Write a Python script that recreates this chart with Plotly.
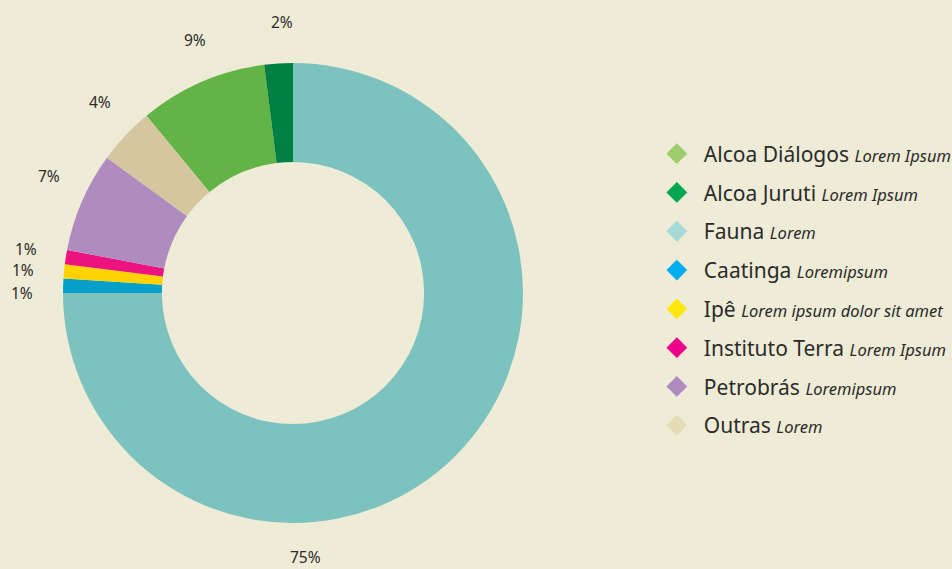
import math
import plotly.graph_objects as go

# ---- data ----
categories = ["Alcoa Diálogos", "Alcoa Juruti", "Fauna", "Caatinga", "Ipê",
              "Instituto Terra", "Petrobrás", "Outras"]
subtitles = ["Lorem Ipsum", "Lorem Ipsum", "Lorem", "Loremipsum",
             "Lorem ipsum dolor sit amet", "Lorem Ipsum", "Loremipsum", "Lorem"]
values = [9, 2, 75, 1, 1, 1, 7, 4]
pct_labels = ["9%", "2%", "75%", "1%", "1%", "1%", "7%", "4%"]

# ---- style ----
slice_colors = ["#63b446", "#007f45", "#7cc3bf", "#06a0cb", "#ffd200",
                "#ec1380", "#b08bc0", "#d4c69e"]
legend_colors = ["#9fcd6c", "#00a651", "#a5dad6", "#00aeef", "#fee60f",
                 "#ec008c", "#b08bc0", "#e3dcb5"]
BG = "#eeebd6"
W, H = 952, 569
CX, CY, R = 293, 293, 230       # donut centre / radius in px
LABEL_R = 271
# hand-placed label tweaks (degrees added to mid-angle, radius overrides)
label_angle_shift = {"Alcoa Diálogos": 2.3, "Alcoa Juruti": 1.3, "Outras": 1.5,
                     "Petrobrás": 2.2, "Instituto Terra": 0.4, "Ipê": -0.6,
                     "Caatinga": -1.8, "Fauna": 42.2}
label_r_override = {"Fauna": 264}
FONT = "Noto Sans"

total = sum(values)
lead = sum(values[:2]) / total * 360.0
rotation = -lead

fig = go.Figure()
fig.add_trace(go.Pie(
    labels=categories, values=values, sort=False, direction="clockwise",
    rotation=rotation, hole=0.57, textinfo="none", hoverinfo="label+percent",
    marker=dict(colors=slice_colors, line=dict(width=0)),
    showlegend=False,
    domain=dict(x=[(CX - R) / W, (CX + R) / W],
                y=[(H - CY - R) / H, (H - CY + R) / H]),
))

for i, (cat, sub) in enumerate(zip(categories, subtitles)):
    fig.add_trace(go.Scatter(
        x=[None], y=[None], mode="markers",
        marker=dict(symbol="diamond", size=16, color=legend_colors[i]),
        name=f"{cat} <i><span style='font-size:16.5px'>{sub}</span></i>",
        legendgroup=cat, showlegend=True,
    ))

cum = -lead
for i, (cat, v, t) in enumerate(zip(categories, values, pct_labels)):
    span = v / total * 360.0
    mid = cum + span / 2
    cum += span
    ang = mid + label_angle_shift.get(cat, 0)
    r = label_r_override.get(cat, LABEL_R)
    a = math.radians(ang)
    px = CX + r * math.sin(a)
    py = CY - r * math.cos(a)
    fig.add_annotation(x=px / W, y=1 - py / H, xref="paper", yref="paper",
                       xanchor="center", yanchor="middle", borderpad=0,
                       text=t, showarrow=False,
                       font=dict(family=FONT, size=15.5, color="#2b2b2b"))

fig.update_layout(
    width=W, height=H, paper_bgcolor=BG, plot_bgcolor=BG,
    margin=dict(l=0, r=0, t=0, b=0, autoexpand=False),
    xaxis=dict(visible=False), yaxis=dict(visible=False),
    showlegend=True,
    legend=dict(x=0.6826, y=0.4912, xanchor="left", yanchor="middle",
                bgcolor="rgba(0,0,0,0)", tracegroupgap=8.5, itemwidth=44,
                font=dict(family=FONT, size=21, color="#2b2b2b"),
                itemclick=False, itemdoubleclick=False),
)

fig.write_html("out.html", config={"displayModeBar": False},
               post_script="document.body.style.margin='0';")
